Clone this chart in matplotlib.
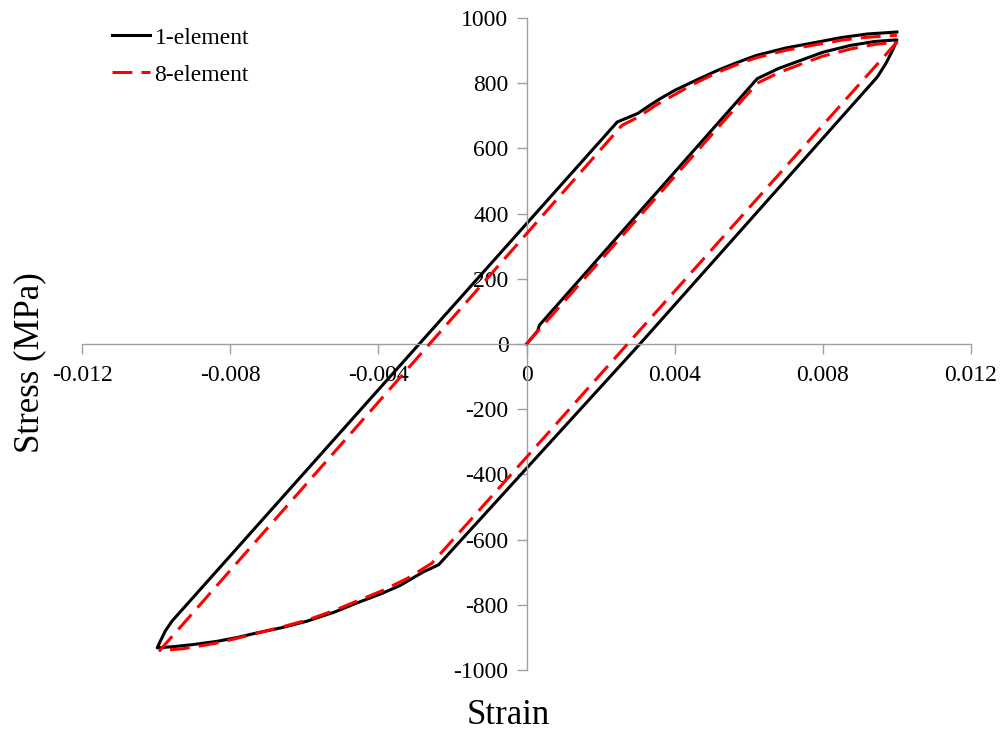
import matplotlib
matplotlib.use('Agg')
import matplotlib.pyplot as plt

# 1-element model: loading, unloading, reverse, reloading (one continuous path)
strain_1 = [0.0, 0.0003, 0.00035, 0.00623, 0.0068, 0.0074, 0.0080, 0.00875,
            0.0094, 0.0100,
            0.0099, 0.0097, 0.00947, 0.00306, -0.00237, -0.0028, -0.00322,
            -0.0034, -0.0039, -0.00457, -0.0052, -0.00592, -0.0066, -0.00727,
            -0.0078, -0.00835, -0.0090, -0.0095, -0.00997,
            -0.0099, -0.00975, -0.00957, 0.00245, 0.0030, 0.00326, 0.0036,
            0.0040, 0.0045, 0.00515, 0.0057, 0.0062, 0.0070, 0.00785, 0.0085,
            0.0092, 0.0100]
stress_1 = [0, 40, 58, 814, 845, 870, 895, 916,
            928, 933,
            905, 860, 819, 0, -677, -700, -728,
            -740, -765, -794, -823, -850, -870, -886,
            -900, -912, -922, -928, -932,
            -915, -880, -850, 681, 707, 727, 752,
            778, 805, 839, 864, 885, 908, 926, 940,
            951, 957]

# 8-element model
strain_8 = [0.0, 0.00623, 0.0068, 0.0074, 0.0080, 0.00875, 0.0094, 0.0100,
            -0.00255, -0.0032, -0.0039, -0.0045, -0.0052, -0.0059, -0.0066,
            -0.0073, -0.0079, -0.0084, -0.0090, -0.0093, -0.0099,
            0.00258, 0.0030, 0.0035, 0.0040, 0.0045, 0.00515, 0.0057, 0.0062,
            0.0070, 0.00785, 0.0085, 0.0092, 0.0100]
stress_8 = [0, 800, 832, 858, 883, 905, 919, 926,
            -672, -718, -757, -785, -818, -846, -868,
            -888, -905, -918, -930, -935, -940,
            671, 695, 733, 765, 797, 833, 858, 878,
            901, 919, 932, 941, 947]

x_ticks = [-0.012, -0.008, -0.004, 0, 0.004, 0.008, 0.012]
x_labels = ['-0.012', '-0.008', '-0.004', '0', '0.004', '0.008', '0.012']
y_ticks = [-1000, -800, -600, -400, -200, 0, 200, 400, 600, 800, 1000]

plt.rcParams['font.family'] = ['Liberation Serif', 'DejaVu Serif']
plt.rcParams['axes.unicode_minus'] = False

fig = plt.figure(figsize=(10.05, 7.32), dpi=100)
ax = fig.add_axes([82 / 1005, 62 / 732, 889 / 1005, 652 / 732])

ax.plot(strain_1, stress_1, color='black', lw=2.2, label='1-element', zorder=2)
ax.plot(strain_8, stress_8, color='#ff0000', lw=2.2, dashes=(6.5, 3),
        label='8-element', zorder=3)

ax.set_xlim(-0.012, 0.012)
ax.set_ylim(-1000, 1000)
ax.set_xticks(x_ticks)
ax.set_xticklabels(x_labels)
ax.set_yticks(y_ticks)

# axes cross at the origin
ax.spines['left'].set_position(('data', 0))
ax.spines['bottom'].set_position(('data', 0))
ax.spines['top'].set_visible(False)
ax.spines['right'].set_visible(False)
for s in ['left', 'bottom']:
    ax.spines[s].set_color('#a0a0a0')
    ax.spines[s].set_linewidth(1.0)

ax.tick_params(axis='both', direction='out', length=7, width=1.0,
               color='#a0a0a0', labelsize=17, labelcolor='black')
ax.tick_params(axis='x', pad=8)
ax.tick_params(axis='y', pad=6)

ax.set_xlabel('Strain', fontsize=25)
ax.set_ylabel('Stress (MPa)', fontsize=25)
ax.xaxis.set_label_coords(0.479, -0.044)
ax.yaxis.set_label_coords(-0.040, 0.472)

ax.legend(loc='upper left', bbox_to_anchor=(112 / 1005, 1 - 27 / 732),
          bbox_transform=fig.transFigure, frameon=False, fontsize=17,
          borderpad=0, borderaxespad=0, handlelength=1.6, handletextpad=0.2,
          labelspacing=0.66)

fig.savefig('out.png', dpi=100)
